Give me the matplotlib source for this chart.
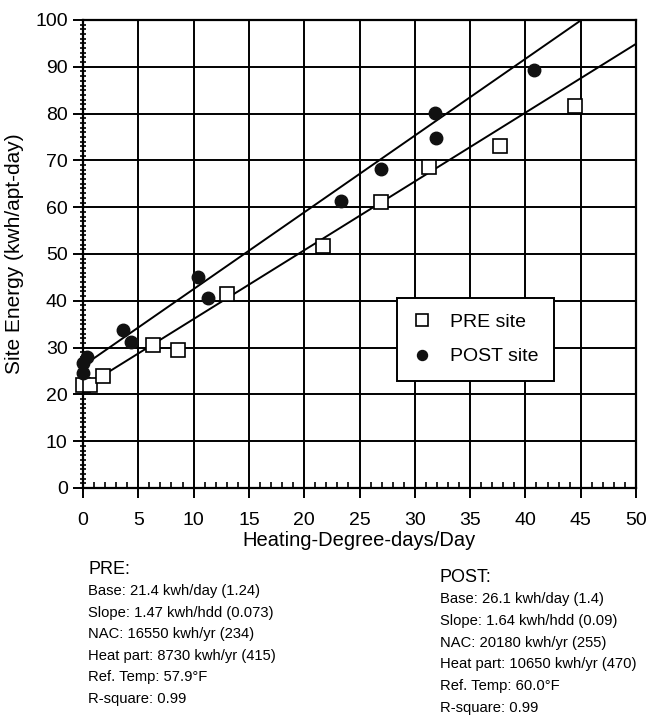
import matplotlib
matplotlib.use("Agg")
import matplotlib.pyplot as plt
import numpy as np
from matplotlib.ticker import MultipleLocator

plt.rcParams['font.family'] = ['Liberation Sans', 'DejaVu Sans']

# Data
pre_hdd = [0.0, 0.6, 1.8, 6.3, 8.6, 13.0, 21.7, 26.9, 31.3, 37.7, 44.5]
pre_energy = [22.0, 22.0, 23.9, 30.6, 29.5, 41.5, 51.7, 61.1, 68.6, 73.1, 81.6]
post_hdd = [0.0, 0.0, 0.4, 3.6, 4.3, 10.4, 11.3, 23.3, 26.9, 31.9, 31.8, 40.8]
post_energy = [24.6, 26.7, 28.0, 33.8, 31.2, 45.1, 40.6, 61.3, 68.2, 74.8, 80.1, 89.3]

# Fit parameters (base, slope)
pre_fit = (21.4, 1.47)
post_fit = (26.1, 1.64)
fit_x = [0, 50]

pre_text = ["Base: 21.4 kwh/day (1.24)", "Slope: 1.47 kwh/hdd (0.073)",
            "NAC: 16550 kwh/yr (234)", "Heat part: 8730 kwh/yr (415)",
            "Ref. Temp: 57.9°F", "R-square: 0.99"]
post_text = ["Base: 26.1 kwh/day (1.4)", "Slope: 1.64 kwh/hdd (0.09)",
             "NAC: 20180 kwh/yr (255)", "Heat part: 10650 kwh/yr (470)",
             "Ref. Temp: 60.0°F", "R-square: 0.99"]

W, H = 661, 719
fig = plt.figure(figsize=(W / 100, H / 100), dpi=100)
ax = fig.add_axes([83 / W, 1 - 488 / H, (636 - 83) / W, (488 - 20) / H])

ax.set_xlim(0, 50)
ax.set_ylim(0, 100)
ax.set_xticks(np.arange(0, 51, 5))
ax.set_yticks(np.arange(0, 101, 10))
ax.xaxis.set_minor_locator(MultipleLocator(1))
ax.yaxis.set_minor_locator(MultipleLocator(1))
ax.grid(True, which='major', color='black', linewidth=1.4)
ax.set_axisbelow(True)
for s in ax.spines.values():
    s.set_linewidth(1.6)
    s.set_color('black')
ax.tick_params(which='major', direction='out', length=7, width=1.4, labelsize=14, pad=4)
ax.tick_params(axis='x', which='major', pad=10)
ax.tick_params(axis='x', which='minor', direction='in', length=4, width=1.2)
ax.tick_params(axis='y', which='minor', direction='inout', length=5, width=1.2)

xs = np.array(fit_x, dtype=float)
ax.plot(xs, pre_fit[0] + pre_fit[1] * xs, color='black', linewidth=1.4, zorder=3)
ax.plot(xs, post_fit[0] + post_fit[1] * xs, color='black', linewidth=1.4, zorder=3)

ax.plot(pre_hdd, pre_energy, linestyle='none', marker='s', markersize=10,
        markerfacecolor='white', markeredgecolor='black', markeredgewidth=1.2,
        label='PRE site', zorder=4, clip_on=False)
ax.plot(post_hdd, post_energy, linestyle='none', marker='o', markersize=9,
        markerfacecolor='#111111', markeredgecolor='#111111',
        label='POST site', zorder=5, clip_on=False)

leg = ax.legend(loc='upper left', bbox_to_anchor=((397 - 83) / (636 - 83), 1 - (298 - 20) / (488 - 20)),
                frameon=True, fancybox=False, edgecolor='black', fontsize=14,
                labelspacing=0.85, borderpad=0.8, handlelength=1.0, handletextpad=0.9,
                borderaxespad=0, markerscale=0.8)
leg.get_frame().set_linewidth(1.4)
leg.get_frame().set_alpha(1)

ax.set_ylabel("Site Energy (kwh/apt-day)", fontsize=15, labelpad=8)
ax.set_xlabel("Heating-Degree-days/Day", fontsize=14.5, labelpad=2)

fig.text(88 / W, 1 - 570 / H, "PRE:", fontsize=13, va='center', ha='left')
for i, t in enumerate(pre_text):
    fig.text(88 / W, 1 - (591 + i * 21.6) / H, t, fontsize=10.6, va='center', ha='left')
fig.text(440 / W, 1 - 577 / H, "POST:", fontsize=13, va='center', ha='left')
for i, t in enumerate(post_text):
    fig.text(440 / W, 1 - (599 + i * 21.8) / H, t, fontsize=10.6, va='center', ha='left')

fig.savefig("out.png", dpi=100)
